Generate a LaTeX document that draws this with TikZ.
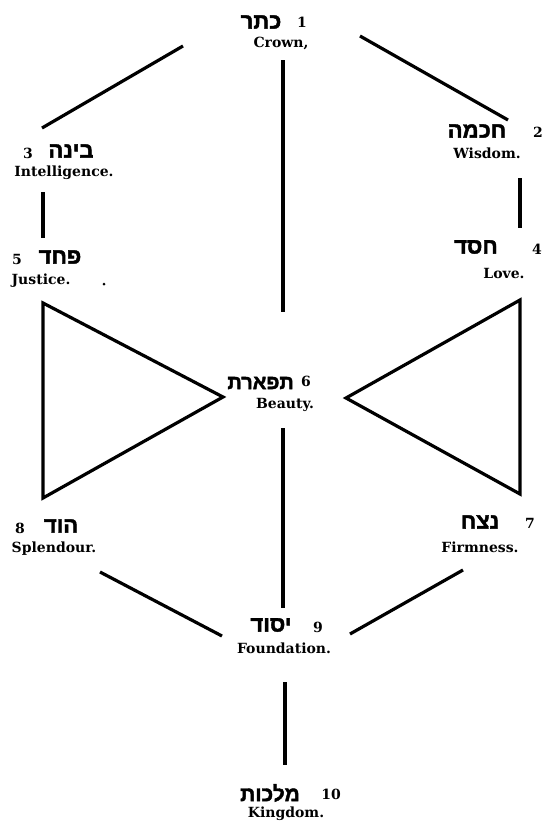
\documentclass[tikz,border=0pt]{standalone}
\usepackage{fontspec}
\TeXXeTstate=1
\newfontfamily\hebfont[Script=Hebrew,FakeBold=2]{Liberation Sans}
\newfontfamily\labfont{DejaVu Serif}
\begin{document}
\begin{tikzpicture}[x=1pt,y=-1pt,
  heb/.style={inner sep=0pt, font=\hebfont\bfseries\fontsize{22}{22}\selectfont},
  num/.style={inner sep=0pt, font=\labfont\bfseries\fontsize{14}{14}\selectfont},
  lab/.style={inner sep=0pt, font=\labfont\bfseries\fontsize{14}{14}\selectfont},
  bar/.style={line width=3.2pt, line cap=butt},
  tri/.style={line width=3.2pt, line join=miter}]
\useasboundingbox (0,0) rectangle (546,830);
% Keter
\node[heb] (h1) at (261,22) {\beginR כתר\endR};
\node[num] (n1) at (302,22) {1};
\node[lab] (e1) at (281,43) {Crown,};
% Chokhmah
\node[heb] (h2) at (477,131) {\beginR חכמה\endR};
\node[num] (n2) at (538,132) {2};
\node[lab] (e2) at (487,153) {Wisdom.};
% Binah
\node[num] (n3) at (28,153) {3};
\node[heb] (h3) at (71,151) {\beginR בינה\endR};
\node[lab] (e3) at (64,173) {Intelligence.};
% Chesed
\node[heb] (h4) at (476,247) {\beginR חסד\endR};
\node[num] (n4) at (537,249) {4};
\node[lab] (e4) at (504,273) {Love.};
% Pachad
\node[num] (n5) at (17,259) {5};
\node[heb] (h5) at (60,257) {\beginR פחד\endR};
\node[lab] (e5) at (41,281) {Justice.};
% Tiferet
\node[heb, anchor=east, font=\hebfont\bfseries\fontsize{20}{20}\selectfont] (h6) at (294,383) {\beginR תפארת\endR};
\node[num] (n6) at (306,381) {6};
\node[lab] (e6) at (285,405) {Beauty.};
% Netzach
\node[heb] (h7) at (480,522) {\beginR נצח\endR};
\node[num] (n7) at (530,523) {7};
\node[lab] (e7) at (480,547) {Firmness.};
% Hod
\node[num] (n8) at (20,528) {8};
\node[heb] (h8) at (61,526) {\beginR הוד\endR};
\node[lab] (e8) at (54,549) {Splendour.};
% Yesod
\node[heb] (h9) at (271,625) {\beginR יסוד\endR};
\node[num] (n9) at (318,627) {9};
\node[lab] (e9) at (284,648) {Foundation.};
% Malkhut
\node[heb, font=\hebfont\bfseries\fontsize{21}{21}\selectfont] (h10) at (270,793) {\beginR מלכות\endR};
\node[num] (n10) at (331,794) {10};
\node[lab] (e10) at (286,814) {Kingdom.};
% stray dot
\fill (104,284) circle (1.5pt);
% connector end points
\coordinate (kl1) at (183,46);  \coordinate (kl2) at (42,128);
\coordinate (kr1) at (360,36);  \coordinate (kr2) at (508,120);
\coordinate (kc1) at (283,60);  \coordinate (kc2) at (283,312);
\coordinate (bl1) at (43,192);  \coordinate (bl2) at (43,238);
\coordinate (cr1) at (520,178); \coordinate (cr2) at (520,228);
\coordinate (tc1) at (283,428); \coordinate (tc2) at (283,608);
\coordinate (hl1) at (100,572); \coordinate (hl2) at (222,636);
\coordinate (nr1) at (463,570); \coordinate (nr2) at (350,634);
\coordinate (yc1) at (285,682); \coordinate (yc2) at (285,765);
\draw[bar] (kl1) -- (kl2);
\draw[bar] (kr1) -- (kr2);
\draw[bar] (kc1) -- (kc2);
\draw[bar] (bl1) -- (bl2);
\draw[bar] (cr1) -- (cr2);
\draw[bar] (tc1) -- (tc2);
\draw[bar] (hl1) -- (hl2);
\draw[bar] (nr1) -- (nr2);
\draw[bar] (yc1) -- (yc2);
% triangles
\coordinate (lt1) at (43,303); \coordinate (lt2) at (43,498); \coordinate (lt3) at (223,397);
\coordinate (rt1) at (520,300); \coordinate (rt2) at (520,494); \coordinate (rt3) at (346,398);
\draw[tri] (lt1) -- (lt2) -- (lt3) -- cycle;
\draw[tri] (rt1) -- (rt2) -- (rt3) -- cycle;
\end{tikzpicture}
\end{document}
